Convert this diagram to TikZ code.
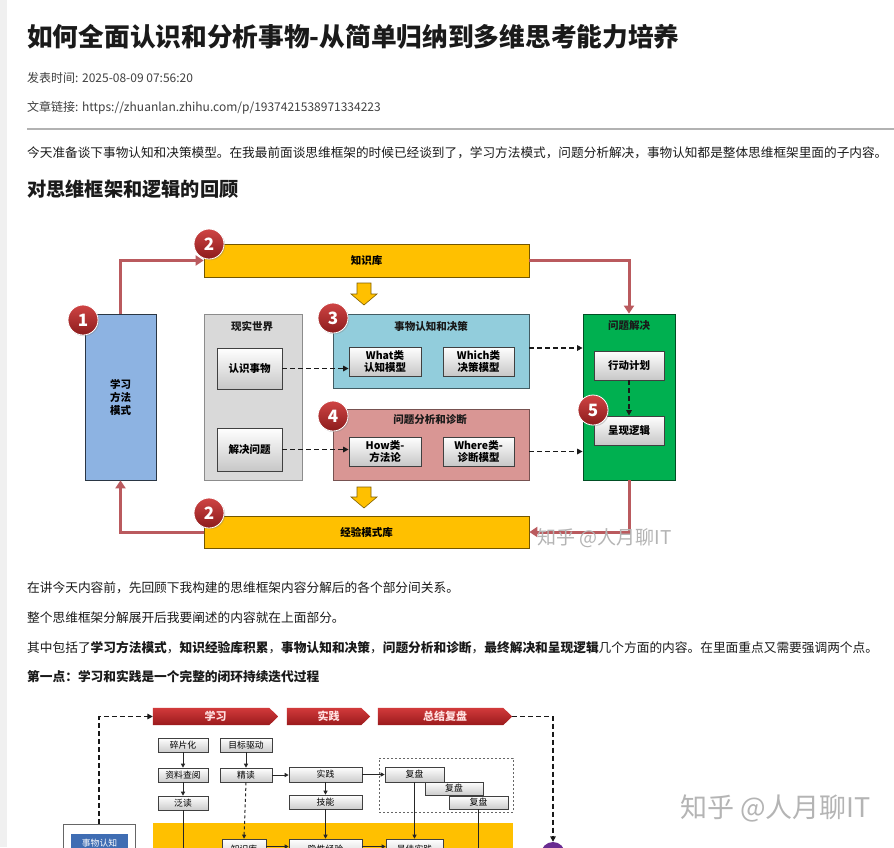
\documentclass[tikz,border=0pt]{standalone}
\usepackage{fontspec}
\setmainfont{Noto Sans CJK SC}
\usetikzlibrary{arrows.meta,shadows}
\definecolor{kbyellow}{HTML}{FFC000}
\definecolor{learnblue}{HTML}{8DB3E2}
\definecolor{realgray}{HTML}{D9D9D9}
\definecolor{cognblue}{HTML}{92CDDC}
\definecolor{diagpink}{HTML}{D99694}
\definecolor{solvegreen}{HTML}{00B050}
\definecolor{conred}{HTML}{BA5A5E}
\definecolor{numredtop}{HTML}{CF4444}
\definecolor{numredbot}{HTML}{8C1C1C}
\definecolor{txtdark}{HTML}{1A1A1A}
\definecolor{txtmeta}{HTML}{404040}
\definecolor{bantop}{HTML}{D23A3B}
\definecolor{banbot}{HTML}{9A1A1C}
\definecolor{objblue}{HTML}{3F6DB3}
\definecolor{purp}{HTML}{6A2C91}
\definecolor{wmgray}{HTML}{B4B4B4}
\newcommand\fsz[2]{\fontsize{#1}{#2}\selectfont}
\newcommand\mkbox[7]{\node[#6, minimum width={#4-#2}, minimum height={#5-#3}, inner sep=0pt] (#1) at ({(#2+#4)/2},{(#3+#5)/2}) {#7};}
\begin{document}
\begin{tikzpicture}[x=1pt,y=-1pt,
  txt/.style={inner sep=0pt, anchor=west, text=txtdark},
  numcirc/.style={circle, minimum size=30pt, inner sep=0pt, top color=numredtop, bottom color=numredbot, draw=white, line width=0.8pt, text=white, font=\fsz{17}{17}\bfseries, drop shadow={opacity=0.35, shadow xshift=1.2pt, shadow yshift=-1.2pt}},
  container/.style={line width=0.8pt},
  inbox/.style={draw=black!75, line width=0.8pt, top color=white, bottom color=black!22, font=\fsz{10.5}{12}\bfseries, align=center, drop shadow={opacity=0.3, shadow xshift=1pt, shadow yshift=-1pt}},
  ctitle/.style={inner sep=0pt, font=\fsz{10.5}{12}\bfseries, text=txtdark},
  bar/.style={fill=kbyellow, draw=black!55!kbyellow, line width=0.8pt, font=\fsz{10.5}{12}\bfseries},
  redline/.style={draw=conred, line width=3pt, -{Triangle[length=8pt,width=10pt]}},
  dasharrow/.style={draw=black!90, line width=1.7pt, dash pattern=on 5pt off 3pt, -{Triangle[length=5.5pt,width=5.5pt]}},
  smallbox/.style={draw=black!75, line width=0.6pt, top color=white, bottom color=black!20, font=\fsz{8.8}{10}},
  smallarrow/.style={draw=black!85, line width=1pt, -{Triangle[length=4pt,width=4pt]}},
  smalldash/.style={draw=black!85, line width=1pt, dash pattern=on 3pt off 2.5pt, -{Triangle[length=4pt,width=4pt]}},
  bantext/.style={font=\fsz{11}{12}\bfseries, text=white!88!red}
]
\useasboundingbox (0,0) rectangle (894,847);
\clip (0,0) rectangle (894,847);
\fill[white] (0,0) rectangle (894,847);
\fill[black!6] (0,0) rectangle (7,847);

% ---------- header ----------
\node[txt] (title) at (27,37) {\fsz{25.7}{30}\bfseries 如何全面认识和分析事物-从简单归纳到多维思考能力培养};
\node[txt, text=txtmeta] (date) at (27,78) {\fsz{12}{14}发表时间: 2025-08-09 07:56:20};
\node[txt, text=txtmeta] (link) at (27,108) {\fsz{12}{14}文章链接: https://zhuanlan.zhihu.com/p/1937421538971334223};
\coordinate (ruleL) at (27,129);
\coordinate (ruleR) at (894,129);
\draw[black!30, line width=1.2pt] (ruleL) -- (ruleR);
\node[txt] (p1) at (27,153) {\fsz{12.65}{15}今天准备谈下事物认知和决策模型。在我最前面谈思维框架的时候已经谈到了，学习方法模式，问题分析解决，事物认知都是整体思维框架里面的子内容。};
\node[txt] (h2) at (27,189) {\fsz{19.2}{22}\bfseries 对思维框架和逻辑的回顾};

% ---------- diagram 1 ----------
\mkbox{kb}{204}{244}{529}{277}{bar}{知识库}
\mkbox{exp}{204}{516}{529}{548}{bar}{经验模式库}
\mkbox{learn}{85}{314}{156}{480}{container, fill=learnblue, draw=black!70!learnblue, font=\fsz{10.5}{13}\bfseries, align=center}{学习\\方法\\模式}
\mkbox{real}{204}{314}{302}{480}{container, fill=realgray, draw=black!45}{}
\mkbox{cogn}{333}{314}{529}{388}{container, fill=cognblue, draw=black!55!cognblue}{}
\mkbox{diag}{333}{409}{529}{480}{container, fill=diagpink, draw=black!45!diagpink}{}
\mkbox{solve}{583}{314}{675}{480}{container, fill=solvegreen, draw=black!55!solvegreen}{}

\node[ctitle] (realT) at (252,326) {现实世界};
\node[ctitle] (cognT) at (431,326) {事物认知和决策};
\node[ctitle] (diagT) at (430,420) {问题分析和诊断};
\node[ctitle] (solveT) at (629,326) {问题解决};

\mkbox{know}{217}{348}{282}{389}{inbox}{认识事物}
\mkbox{solvep}{217}{428}{282}{471}{inbox}{解决问题}
\mkbox{what}{349}{347}{421}{376}{inbox}{What类\\认知模型}
\mkbox{which}{443}{347}{514}{376}{inbox}{Which类\\决策模型}
\mkbox{how}{349}{437}{421}{466}{inbox}{How类-\\方法论}
\mkbox{where}{443}{437}{514}{466}{inbox}{Where类-\\诊断模型}
\mkbox{plan}{594}{351}{664}{380}{inbox}{行动计划}
\mkbox{present}{594}{416}{664}{445}{inbox}{呈现逻辑}

% yellow block arrows
\filldraw[fill=kbyellow, draw=black!50!kbyellow, line width=0.6pt] (357,283) -- (371,283) -- (371,294) -- (377,294) -- (364,305) -- (351,294) -- (357,294) -- cycle;
\filldraw[fill=kbyellow, draw=black!50!kbyellow, line width=0.6pt] (357,487) -- (371,487) -- (371,497) -- (377,497) -- (364,508) -- (351,497) -- (357,497) -- cycle;

% red connectors
\draw[redline] (learn.north) |- (kb.west);
\draw[redline] (kb.east) -| (solve.north);
\draw[redline] (solve.south) |- (exp.east);
\draw[redline] (exp.west) -| (learn.south);

% dashed connectors
\draw[dasharrow] (know.east) -- (know.east -| what.west);
\draw[dasharrow] (solvep.east) -- (solvep.east -| how.west);
\draw[dasharrow] ([yshift=3pt]cogn.east) -- ([yshift=3pt]cogn.east -| solve.west);
\draw[dasharrow] (how.east -| diag.east) -- (how.east -| solve.west);
\draw[dasharrow] (plan.south) -- (present.north);

% number circles
\node[numcirc] (n1) at (83,320) {1};
\node[numcirc] (n2a) at (209,244) {2};
\node[numcirc] (n3) at (333,318) {3};
\node[numcirc] (n4) at (333,416) {4};
\node[numcirc] (n5) at (593,410) {5};
\node[numcirc] (n2b) at (209,513) {2};

\node[txt, text=wmgray] (wm1) at (537,538) {\fsz{19}{20}知乎 @人月聊IT};

% ---------- text between ----------
\node[txt] (p2) at (27,588) {\fsz{12.7}{15}在讲今天内容前，先回顾下我构建的思维框架内容分解后的各个部分间关系。};
\node[txt] (p3) at (27,618) {\fsz{12.7}{15}整个思维框架分解展开后我要阐述的内容就在上面部分。};
\node[txt] (p4) at (27,648) {\fsz{12.7}{15}其中包括了\textbf{学习方法模式}，\textbf{知识经验库积累}，\textbf{事物认知和决策}，\textbf{问题分析和诊断}，\textbf{最终解决和呈现逻辑}几个方面的内容。在里面重点又需要强调两个点。};
\node[txt] (p5) at (27,677) {\fsz{12.7}{15}\bfseries 第一点：学习和实践是一个完整的闭环持续迭代过程};

% ---------- diagram 2 ----------
\mkbox{bLearn}{153}{708}{278}{725}{}{}
\mkbox{bPrac}{287}{708}{370}{725}{}{}
\mkbox{bSum}{378}{708}{512}{725}{}{}
\shade[top color=bantop, bottom color=banbot] (bLearn.north west) -- ([xshift=-9pt]bLearn.north east) -- (bLearn.east) -- ([xshift=-9pt]bLearn.south east) -- (bLearn.south west) -- cycle;
\shade[top color=bantop, bottom color=banbot] (bPrac.north west) -- ([xshift=-9pt]bPrac.north east) -- (bPrac.east) -- ([xshift=-9pt]bPrac.south east) -- (bPrac.south west) -- cycle;
\shade[top color=bantop, bottom color=banbot] (bSum.north west) -- ([xshift=-9pt]bSum.north east) -- (bSum.east) -- ([xshift=-9pt]bSum.south east) -- (bSum.south west) -- cycle;
\node[bantext] (bLearnT) at (bLearn.center) {学习};
\node[bantext] (bPracT) at (bPrac.center) {实践};
\node[bantext] (bSumT) at (bSum.center) {总结复盘};

\mkbox{yarea}{153}{823}{513}{880}{fill=kbyellow}{}
\mkbox{revgroup}{379}{758}{513}{812}{draw=black!60, line width=0.8pt, dash pattern=on 2pt off 2pt}{}

\mkbox{frag}{158}{738}{208}{752}{smallbox}{碎片化}
\mkbox{goal}{220}{738}{272}{752}{smallbox}{目标驱动}
\mkbox{mat}{158}{768}{208}{782}{smallbox}{资料查阅}
\mkbox{close}{220}{768}{272}{782}{smallbox}{精读}
\mkbox{skim}{158}{796}{208}{810}{smallbox}{泛读}
\mkbox{prac}{289}{767}{362}{782}{smallbox}{实践}
\mkbox{skill}{289}{795}{362}{809}{smallbox}{技能}
\mkbox{rev3}{449}{796}{508}{809}{smallbox}{复盘}
\mkbox{rev2}{425}{782}{483}{795}{smallbox}{复盘}
\mkbox{rev1}{385}{767}{444}{782}{smallbox}{复盘}
\mkbox{kb2}{222}{839}{266}{860}{smallbox}{知识库}
\mkbox{tacit}{289}{839}{362}{860}{smallbox}{隐性经验}
\mkbox{best}{386}{839}{443}{860}{smallbox}{最佳实践}

\mkbox{lbox}{63}{824}{135}{880}{fill=white, draw=black!60, line width=0.8pt}{}
\mkbox{obj}{71}{834}{128}{852}{fill=objblue, text=white, font=\fsz{8.8}{10}}{事物认知}
\node[circle, fill=purp, minimum size=24pt, inner sep=0pt] (purpc) at (553,854) {};

\coordinate (skimEnd) at (183,880);
\coordinate (rev3End) at (478.5,880);
\draw[smallarrow] (frag) -- (mat);
\draw[smallarrow] (mat) -- (skim);
\draw[draw=black!85, line width=1pt] (skim.south) -- (skimEnd);
\draw[smallarrow] (goal) -- (close);
\draw[smalldash] (close.south) -- (kb2.north);
\draw[smallarrow] (close.east) -- (close.east -| prac.west);
\draw[smallarrow] (prac) -- (skill);
\draw[smallarrow] (skill.south) -- (skill.south |- tacit.north);
\draw[smallarrow] (prac.east) -- (prac.east -| rev1.west);
\draw[smallarrow] (rev1.south) -- (rev1.south |- best.north);
\draw[draw=black!85, line width=1pt] (rev3.south) -- (rev3End);
\draw[smallarrow] ([yshift=3pt]kb2.east) -- ([yshift=3pt]kb2.east -| tacit.west);
\draw[smallarrow] ([yshift=3pt]tacit.east) -- ([yshift=3pt]tacit.east -| best.west);

\draw[dasharrow] (lbox.north) |- (bLearn.west);
\draw[dasharrow] (bSum.east) -| (purpc.north);

\node[txt, text=wmgray] (wm2) at (680,808) {\fsz{27}{28}知乎 @人月聊IT};
\end{tikzpicture}
\end{document}
